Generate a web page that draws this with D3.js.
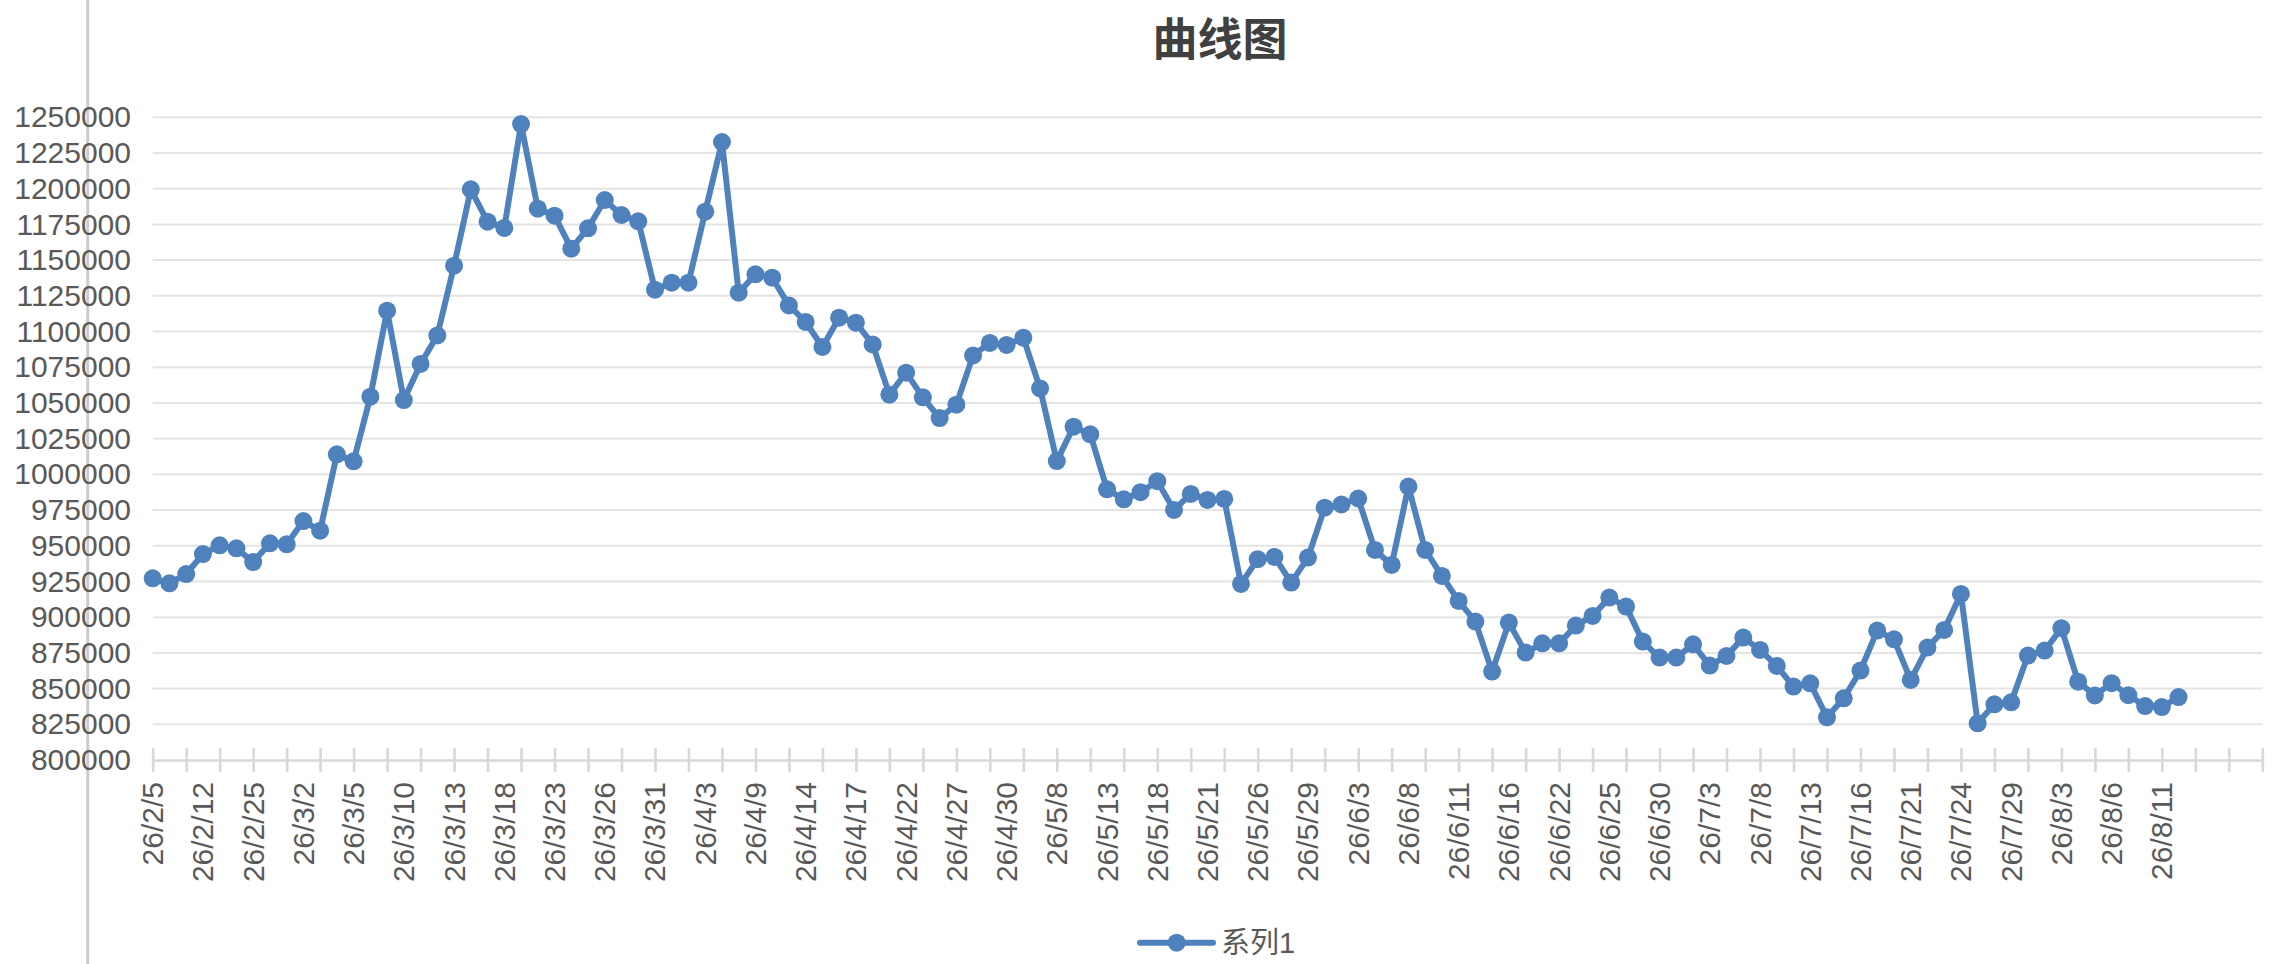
<!DOCTYPE html>
<html>
<head>
<meta charset="utf-8">
<script src="https://cdn.jsdelivr.net/npm/d3@7"></script>
<style>
body { margin: 0; background: #fff; }
text { font-family: "Liberation Sans", Arial, "Noto Sans CJK SC", sans-serif; }
</style>
</head>
<body>
<svg id="chart" width="2290" height="964"></svg>
<script>
title = '曲线图';
seriesName = '系列1';

// category count on the axis (last ones are empty)
categoryCount = 127;

// every third category label
tickLabels = ['26/2/5', '26/2/12', '26/2/25', '26/3/2', '26/3/5', '26/3/10', '26/3/13', '26/3/18',
    '26/3/23', '26/3/26', '26/3/31', '26/4/3', '26/4/9', '26/4/14', '26/4/17', '26/4/22',
    '26/4/27', '26/4/30', '26/5/8', '26/5/13', '26/5/18', '26/5/21', '26/5/26', '26/5/29',
    '26/6/3', '26/6/8', '26/6/11', '26/6/16', '26/6/22', '26/6/25', '26/6/30', '26/7/3',
    '26/7/8', '26/7/13', '26/7/16', '26/7/21', '26/7/24', '26/7/29', '26/8/3', '26/8/6', '26/8/11'];

values = [927200, 923700, 930200, 944200, 950300, 948200, 938600, 951700, 951000, 967300,
    960600, 1014000, 1009100, 1054400, 1114600, 1052000, 1077300, 1097300, 1146100, 1199600,
    1176900, 1172500, 1245300, 1186000, 1181100, 1158000, 1172300, 1192100, 1181600, 1177200,
    1129300, 1134200, 1134200, 1183900, 1232700, 1127200, 1140100, 1137700, 1118300, 1106700,
    1089200, 1109700, 1106200, 1091000, 1055800, 1071200, 1053900, 1039400, 1048800, 1083300,
    1092000, 1090600, 1095700, 1060200, 1009300, 1033400, 1028000, 989500, 982500, 987500,
    995200, 975100, 986300, 982100, 982800, 923300, 940600, 942200, 924200, 941700,
    976700, 978900, 983100, 947100, 936600, 991500, 947100, 928900, 911400, 896900,
    861900, 896200, 875200, 881700, 881700, 894100, 900900, 913700, 907400, 882900,
    871700, 871700, 881000, 866100, 872900, 885700, 877100, 865900, 851400, 853700,
    829900, 843200, 862600, 890600, 884500, 856100, 878700, 891100, 916300, 825700,
    839000, 840400, 873100, 876600, 892300, 854800, 845200, 853800, 845400, 837800,
    837100, 844100];

yTicks = d3.range(800000, 1250001, 25000);

lineColor = '#4f81bd';
textColor = '#595959';

svg = d3.select('#chart');

x = d3.scaleLinear()
    .domain([0, categoryCount - 1])
    .range([152.7, 2262.3]);

y = d3.scaleLinear()
    .domain([800000, 1250000])
    .range([760, 117.3]);

// stray border line on the left
svg.append('line')
    .attr('x1', 87.7).attr('x2', 87.7)
    .attr('y1', 0).attr('y2', 964)
    .attr('stroke', '#cccccc')
    .attr('stroke-width', 3);

// grid
svg.append('g')
    .selectAll('line')
    .data(yTicks.slice(1))
    .enter().append('line')
    .attr('x1', x(0))
    .attr('x2', x(categoryCount - 1))
    .attr('y1', function(d) { return y(d); })
    .attr('y2', function(d) { return y(d); })
    .attr('stroke', '#e4e4e4')
    .attr('stroke-width', 2);

// y axis labels
yAxis = d3.axisLeft(y)
    .tickValues(yTicks)
    .tickFormat(d3.format('d'))
    .tickSize(0)
    .tickPadding(0);

yg = svg.append('g')
    .attr('transform', 'translate(131,0)')
    .call(yAxis);
yg.select('.domain').remove();
yg.selectAll('text')
    .attr('font-size', 30)
    .attr('font-family', '"Liberation Sans", Arial, sans-serif')
    .attr('fill', textColor);

// x axis: ticks every 2 categories, labels every 3
xAxis = d3.axisBottom(x)
    .tickValues(d3.range(0, categoryCount, 2))
    .tickSize(12)
    .tickSizeOuter(0)
    .tickFormat('');

xg = svg.append('g')
    .attr('transform', 'translate(0,760)')
    .call(xAxis);
xg.select('.domain')
    .attr('stroke', '#d9d9d9')
    .attr('stroke-width', 2.7);
xg.selectAll('.tick line')
    .attr('y1', -12)
    .attr('stroke', '#d9d9d9')
    .attr('stroke-width', 2.7);

svg.append('g')
    .selectAll('text')
    .data(tickLabels)
    .enter().append('text')
    .attr('transform', function(d, i) { return 'translate(' + x(i * 3) + ',782) rotate(-90)'; })
    .attr('text-anchor', 'end')
    .attr('dy', '0.35em')
    .attr('font-size', 30)
    .attr('fill', textColor)
    .text(function(d) { return d; });

// series
line = d3.line()
    .x(function(d, i) { return x(i); })
    .y(function(d) { return y(d); });

svg.append('path')
    .datum(values)
    .attr('d', line)
    .attr('fill', 'none')
    .attr('stroke', lineColor)
    .attr('stroke-width', 6)
    .attr('stroke-linejoin', 'round')
    .attr('stroke-linecap', 'round');

svg.append('g')
    .selectAll('circle')
    .data(values)
    .enter().append('circle')
    .attr('cx', function(d, i) { return x(i); })
    .attr('cy', function(d) { return y(d); })
    .attr('r', 9)
    .attr('fill', lineColor);

// title
svg.append('text')
    .attr('x', 1220)
    .attr('y', 40)
    .attr('text-anchor', 'middle')
    .attr('dominant-baseline', 'central')
    .attr('font-family', '"Noto Sans CJK SC", sans-serif')
    .attr('font-weight', 'bold')
    .attr('font-size', 45)
    .attr('fill', '#404040')
    .text(title);

// legend
legend = svg.append('g');
legend.append('line')
    .attr('x1', 1140).attr('x2', 1213)
    .attr('y1', 942.7).attr('y2', 942.7)
    .attr('stroke', lineColor)
    .attr('stroke-width', 6)
    .attr('stroke-linecap', 'round');
legend.append('circle')
    .attr('cx', 1176.7)
    .attr('cy', 942.7)
    .attr('r', 9)
    .attr('fill', lineColor);
legend.append('text')
    .attr('x', 1221)
    .attr('y', 943)
    .attr('dominant-baseline', 'central')
    .attr('font-size', 29)
    .attr('fill', textColor)
    .text(seriesName);
</script>
</body>
</html>
